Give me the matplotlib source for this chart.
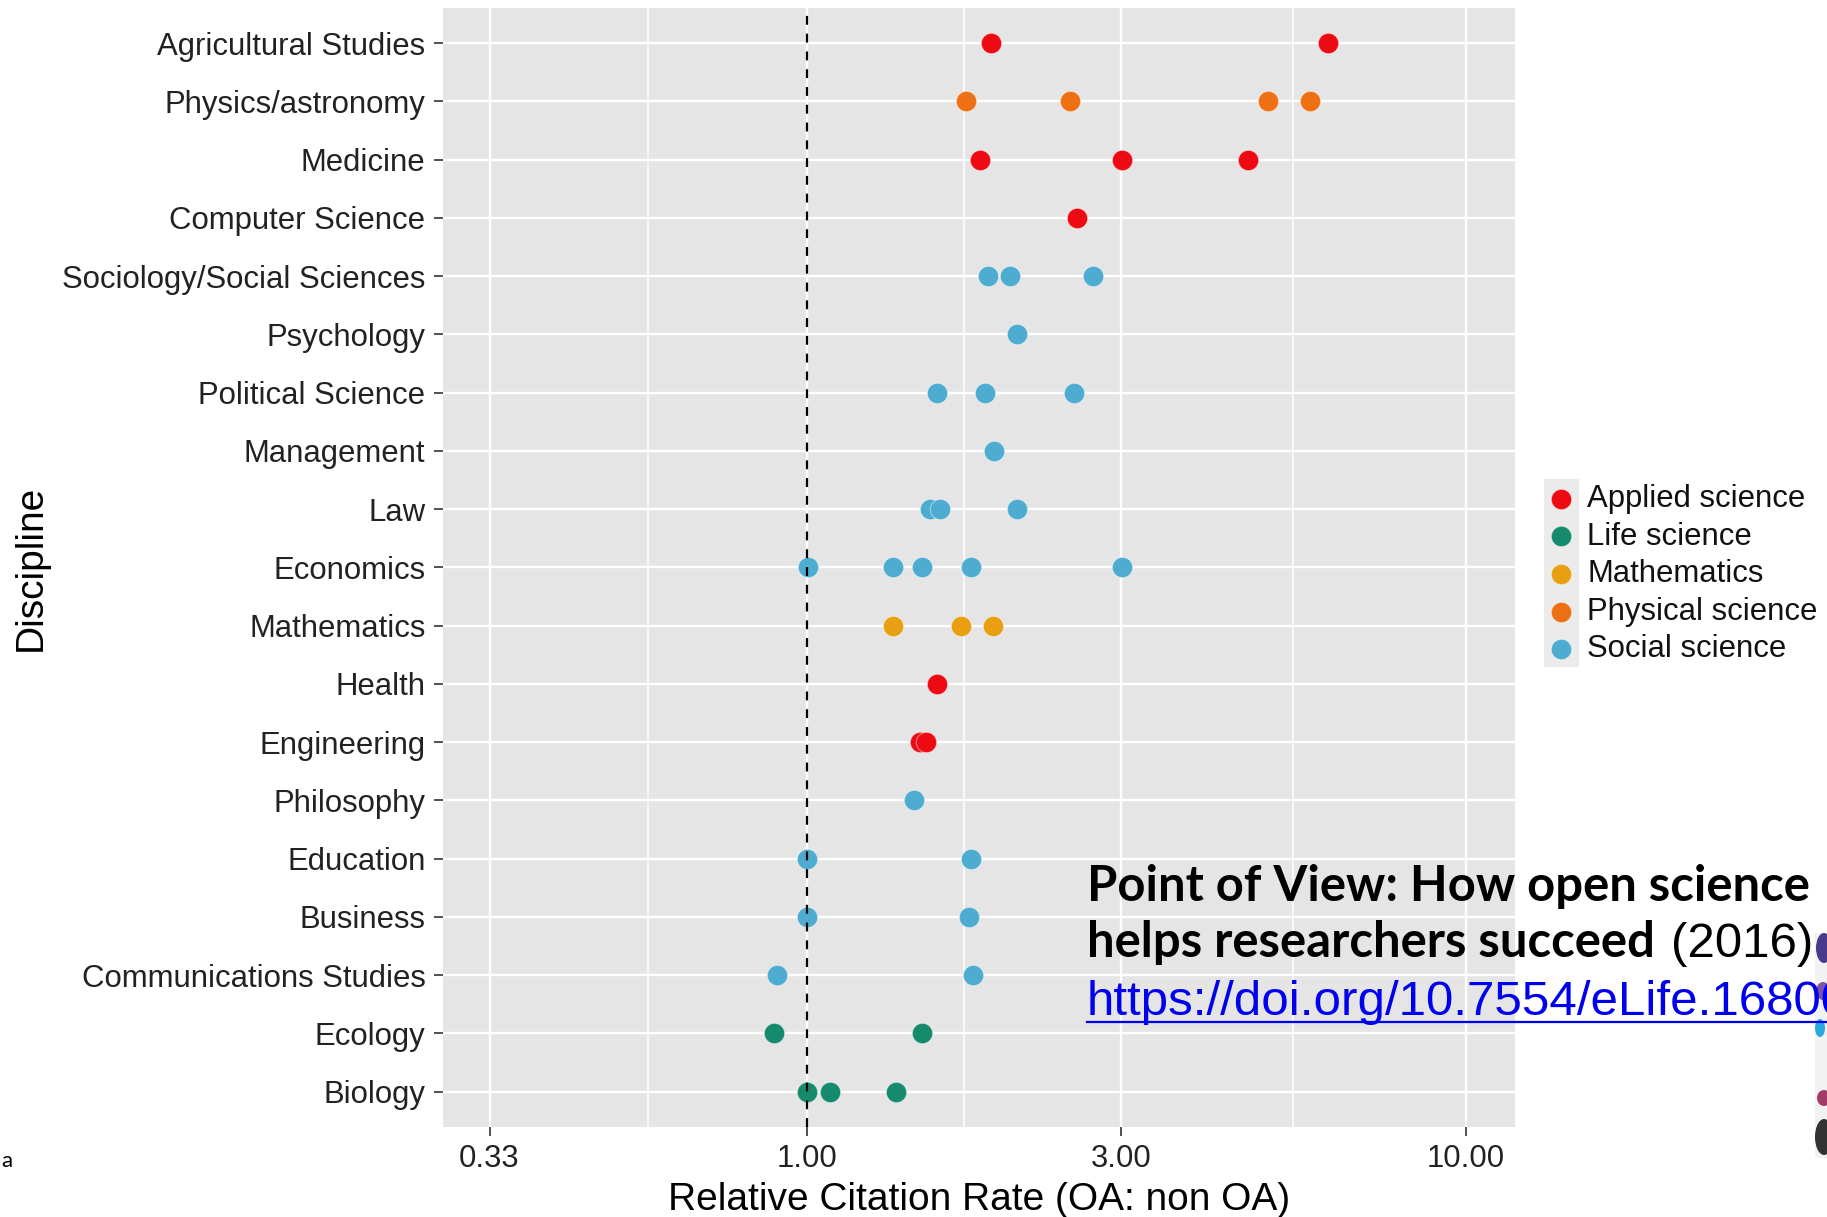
import matplotlib
matplotlib.use("Agg")
import matplotlib.pyplot as plt
import numpy as np
from matplotlib.patches import Rectangle, Ellipse
from matplotlib.lines import Line2D

# ---------------- data ----------------
disciplines = ["Agricultural Studies", "Physics/astronomy", "Medicine", "Computer Science",
               "Sociology/Social Sciences", "Psychology", "Political Science", "Management",
               "Law", "Economics", "Mathematics", "Health", "Engineering", "Philosophy",
               "Education", "Business", "Communications Studies", "Ecology", "Biology"]
discipline_field = ["Applied science", "Physical science", "Applied science", "Applied science",
                    "Social science", "Social science", "Social science", "Social science",
                    "Social science", "Social science", "Mathematics", "Applied science",
                    "Applied science", "Social science", "Social science", "Social science",
                    "Social science", "Life science", "Life science"]
rcr_values = [
    [1.905, 6.19],
    [1.745, 2.505, 5.01, 5.81],
    [1.834, 3.006, 4.67],
    [2.572],
    [1.884, 2.032, 2.72],
    [2.083],
    [1.574, 1.864, 2.544],
    [1.925],
    [1.538, 1.593, 2.085],
    [1.003, 1.353, 1.494, 1.773, 3.004],
    [1.353, 1.714, 1.917],
    [1.574],
    [1.485, 1.517],
    [1.455],
    [1.00, 1.773],
    [1.00, 1.764],
    [0.902, 1.785],
    [0.892, 1.494],
    [1.00, 1.083, 1.364],
]
fields = ["Applied science", "Life science", "Mathematics", "Physical science", "Social science"]
field_colors = ["#EE0A12", "#168A6C", "#E8A012", "#EE7014", "#4DACD0"]
x_breaks = [0.33, 1.0, 3.0, 10.0]
x_break_labels = ["0.33", "1.00", "3.00", "10.00"]
x_limits = [0.2803, 11.87]
reference_rate = 1.0

# ---------------- figure ----------------
W, H = 1827, 1217
plt.rcParams["font.family"] = ["Liberation Sans", "DejaVu Sans"]
fig = plt.figure(figsize=(W / 100, H / 100), dpi=100)
fig.patch.set_facecolor("white")

ax = fig.add_axes([442.8 / W, 1 - 1126.7 / H, (1514.7 - 442.8) / W, (1126.7 - 8.2) / H])
ax.set_zorder(3)
ax.set_facecolor("#E5E5E5")
for s in ax.spines.values():
    s.set_visible(False)

ax.set_xscale("log")
ax.set_xlim(*x_limits)
ax.set_ylim(len(disciplines) - 1 + 0.6, -0.6)

ax.set_xticks(x_breaks)
ax.set_xticklabels(x_break_labels)
minor = [np.sqrt(a * b) for a, b in zip(x_breaks[:-1], x_breaks[1:])]
ax.set_xticks(minor, minor=True)
ax.set_xticklabels([""] * len(minor), minor=True)
ax.set_yticks(range(len(disciplines)))
ax.set_yticklabels(disciplines)
ax.set_yticks([], minor=True)

ax.tick_params(axis="both", which="major", length=6.5, width=1.2, color="#333333",
               labelsize=22.4, labelcolor="#222222")
ax.tick_params(axis="y", which="major", pad=6)
ax.tick_params(axis="x", which="major", pad=6)
ax.tick_params(which="minor", length=0)

ax.set_axisbelow(True)
ax.grid(which="major", color="white", lw=1.7)
ax.grid(which="minor", axis="x", color="white", lw=1.1)

for f, c in zip(fields, field_colors):
    xs, ys = [], []
    for i, (d, fld) in enumerate(zip(disciplines, discipline_field)):
        if fld == f:
            xs += rcr_values[i]
            ys += [i] * len(rcr_values[i])
    ax.scatter(xs, ys, s=215, color=c, edgecolors=(1, 1, 1, 0.45), linewidths=0.8,
               zorder=3, label=f)

ax.axvline(reference_rate, color="black", lw=1.6, ls=(0, (4, 4)), zorder=4)

ax.set_xlabel("Relative Citation Rate (OA: non OA)", fontsize=28, color="black")
ax.xaxis.labelpad = 6
fig.text(31 / W, 1 - 567.5 / H, "Discipline", rotation=90, ha="center", va="center",
         fontsize=28, color="black")

# legend key background
fig.patches.append(Rectangle((1544 / W, 1 - 667 / H), 35 / W, 188 / H,
                             transform=fig.transFigure, facecolor="#EBEBEB",
                             edgecolor="none", zorder=0))
leg = ax.legend(loc="upper left", bbox_to_anchor=(1548.6 / W, 1 - 484 / H),
                bbox_transform=fig.transFigure, frameon=False, borderpad=0,
                borderaxespad=0, handlelength=0.8, handletextpad=0.45,
                labelspacing=0.245, fontsize=22.4, scatterpoints=1)
for t in leg.get_texts():
    t.set_color("#111111")

# ---------------- overlay slide text ----------------
fig.text(1087 / W, 1 - 901 / H, "Point of View: How open science", family="Lato",
         weight="bold", fontsize=35.3, va="baseline", color="black", zorder=10)
t2 = fig.text(1087 / W, 1 - 957.3 / H, "helps researchers succeed", family="Lato",
              weight="bold", fontsize=35.3, va="baseline", color="black", zorder=10)
fig.canvas.draw()
ext = t2.get_window_extent()
fig.text((ext.x1 + 16) / W, 1 - 957.3 / H, "(2016)", fontsize=35.5, va="baseline",
         color="black", zorder=10)
fig.text(1087 / W, 1 - 1015 / H, "https://doi.org/10.7554/eLife.16800", fontsize=35.5,
         va="baseline", color="#0000EE", zorder=10)
fig.add_artist(Line2D([1087 / W, 1.0], [1 - 1021.7 / H] * 2, transform=fig.transFigure,
                      color="#0000EE", lw=1.6, zorder=10))

# stray slide fragments
fig.text(1 / W, 1 - 1167 / H, "a", family="Lato", fontsize=16, va="baseline", color="black")
fig.patches.append(Rectangle((1815 / W, 1 - 1158 / H), 12 / W, 225 / H,
                             transform=fig.transFigure, facecolor="#F2F2F2",
                             edgecolor="none", zorder=1))
for (cx, cy, w, h, col) in [(1824, 948, 16, 30, "#4A3A8C"), (1823, 991, 14, 18, "#7E55A6"),
                            (1820, 1028, 10, 18, "#2AA8E0"), (1824, 1098, 14, 16, "#A33A6A"),
                            (1824, 1137, 18, 36, "#333333")]:
    fig.patches.append(Ellipse((cx / W, 1 - cy / H), w / W, h / H, transform=fig.transFigure,
                               facecolor=col, edgecolor="none", zorder=2))

fig.savefig("out.png", dpi=100)
